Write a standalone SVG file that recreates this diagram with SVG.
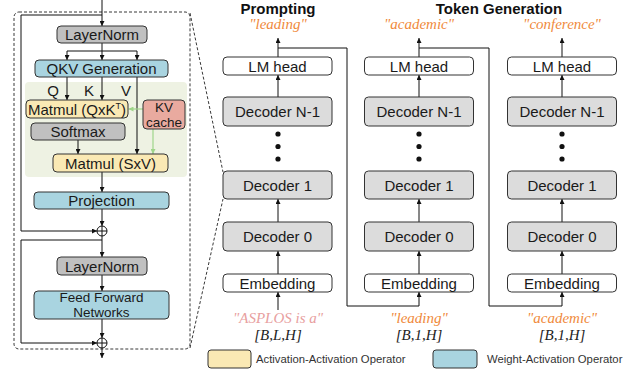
<svg xmlns="http://www.w3.org/2000/svg" width="631" height="370" viewBox="0 0 631 370">
<defs>
<marker id="ah" viewBox="0 0 10 10" refX="10" refY="5" markerWidth="5" markerHeight="5" orient="auto" markerUnits="userSpaceOnUse"><path d="M0,0 L10,5 L0,10 z" fill="#111"/></marker>
<marker id="ahg" viewBox="0 0 10 10" refX="10" refY="5" markerWidth="5" markerHeight="5" orient="auto" markerUnits="userSpaceOnUse"><path d="M0,0 L10,5 L0,10 z" fill="#9fd58a"/></marker>
<style>
.b{stroke:#333;stroke-width:1}
.gray{fill:#c0c0c0}
.blue{fill:#a9d4e0}
.yel{fill:#fae9b4}
.pink{fill:#e9aa9f}
.wh{fill:#fff}
.dec{fill:#dcdcdc}
.t{font-family:"Liberation Sans",Arial,sans-serif;font-size:15px;fill:#1a1a1a;text-anchor:middle}
.t2{font-family:"Liberation Sans",Arial,sans-serif;font-size:13.5px;fill:#1a1a1a;text-anchor:middle}
.h{font-family:"Liberation Sans",Arial,sans-serif;font-size:15px;font-weight:bold;fill:#111;text-anchor:middle}
.w{font-family:"Liberation Serif","Times New Roman",serif;font-style:italic;font-size:15px;text-anchor:middle}
.lg{font-family:"Liberation Sans",Arial,sans-serif;font-size:11.3px;fill:#333}
.c{fill:none;stroke:#111;stroke-width:1}
.cg{fill:none;stroke:#9fd58a;stroke-width:1.2}
.d{fill:none;stroke:#222;stroke-width:0.9;stroke-dasharray:3,2}
</style>
</defs>

<!-- left panel background -->
<rect x="14" y="12" width="176" height="337" rx="5" class="d"/>
<rect x="25" y="82" width="162" height="95" rx="4" fill="#eef2e3"/>

<g id="connectors">
<path class="c" d="M102,0 V26" marker-end="url(#ah)"/>
<path class="c" d="M102,43 V51 M67,51 H137"/>
<path class="c" d="M67,51 V60" marker-end="url(#ah)"/>
<path class="c" d="M102,51 V60" marker-end="url(#ah)"/>
<path class="c" d="M137,51 V60" marker-end="url(#ah)"/>
<path class="c" d="M67,77 V100" marker-end="url(#ah)"/>
<path class="c" d="M102,77 V100" marker-end="url(#ah)"/>
<path class="c" d="M137,77 V154" marker-end="url(#ah)"/>
<path class="c" d="M78,140 V154" marker-end="url(#ah)"/>
<path class="cg" d="M143,109 H128.5" marker-end="url(#ahg)"/>
<path class="cg" d="M153,129 V154" marker-end="url(#ahg)"/>
<path class="c" d="M102,172 V192" marker-end="url(#ah)"/>
<path class="c" d="M102,209 V226" marker-end="url(#ah)"/>
<path class="c" d="M102,15 H21 V231 H97" marker-end="url(#ah)"/>
<path class="c" d="M102,236 V257" marker-end="url(#ah)"/>
<path class="c" d="M102,240 H21 V343 H97" marker-end="url(#ah)"/>
<path class="c" d="M102,275 V291" marker-end="url(#ah)"/>
<path class="c" d="M102,319 V338" marker-end="url(#ah)"/>
<path class="c" d="M102,348 V358" marker-end="url(#ah)"/>
<path class="d" d="M190,13 L223,172 M190,348 L223,199"/>
<!-- plus circles -->
<circle cx="102" cy="231" r="5" fill="#fff" stroke="#111"/>
<path class="c" d="M97,231 H107 M102,226 V236"/>
<circle cx="102" cy="343" r="5" fill="#fff" stroke="#111"/>
<path class="c" d="M97,343 H107 M102,338 V348"/>
<!-- right columns -->
<path class="c" d="M278,57 V38" marker-end="url(#ah)"/>
<path class="c" d="M278,97 V75" marker-end="url(#ah)"/>
<path class="c" d="M278,222 V199" marker-end="url(#ah)"/>
<path class="c" d="M278,274 V251" marker-end="url(#ah)"/>
<path class="c" d="M278,310 V292" marker-end="url(#ah)"/>
<path class="c" d="M419,57 V38" marker-end="url(#ah)"/>
<path class="c" d="M419,97 V75" marker-end="url(#ah)"/>
<path class="c" d="M419,222 V199" marker-end="url(#ah)"/>
<path class="c" d="M419,274 V251" marker-end="url(#ah)"/>
<path class="c" d="M562,57 V38" marker-end="url(#ah)"/>
<path class="c" d="M562,97 V75" marker-end="url(#ah)"/>
<path class="c" d="M562,222 V199" marker-end="url(#ah)"/>
<path class="c" d="M562,274 V251" marker-end="url(#ah)"/>
<path class="c" d="M278,48 H347 V306 H419 V292" marker-end="url(#ah)"/>
<path class="c" d="M419,48 H489 V306 H562 V292" marker-end="url(#ah)"/>
</g>

<g id="layernorm1"><rect x="57" y="26" width="90" height="17" rx="4" class="b gray"/><text x="102" y="40" class="t">LayerNorm</text></g>
<g id="qkv"><rect x="35" y="60" width="133" height="17" rx="4" class="b blue"/><text x="101.5" y="74" class="t">QKV Generation</text></g>
<g id="qkvlabels"><text x="53" y="96" class="t">Q</text><text x="89" y="96" class="t">K</text><text x="126" y="96" class="t">V</text></g>
<g id="matmulqk"><rect x="26" y="100" width="102" height="18" rx="4" class="b yel"/><text x="77" y="114.5" class="t">Matmul (QxK<tspan font-size="9" dy="-6">T</tspan><tspan dy="6">)</tspan></text></g>
<g id="kvcache"><rect x="143" y="100" width="42" height="29" rx="4" class="b pink"/><text x="164" y="112" class="t2">KV</text><text x="164" y="126.5" class="t2">cache</text></g>
<g id="softmax"><rect x="31" y="123" width="94" height="17" rx="4" class="b gray"/><text x="78" y="137" class="t">Softmax</text></g>
<g id="matmulsv"><rect x="53" y="154" width="115" height="18" rx="4" class="b yel"/><text x="110.5" y="168.5" class="t">Matmul (SxV)</text></g>
<g id="projection"><rect x="34" y="192" width="135" height="17" rx="4" class="b blue"/><text x="101.5" y="206" class="t">Projection</text></g>
<g id="layernorm2"><rect x="57" y="257" width="90" height="18" rx="4" class="b gray"/><text x="102" y="271.5" class="t">LayerNorm</text></g>
<g id="ffn"><rect x="34" y="291" width="135" height="28" rx="4" class="b blue"/><text x="101.5" y="302" class="t2">Feed Forward</text><text x="101.5" y="316.5" class="t2">Networks</text></g>

<g id="titles"><text x="278" y="14" class="h">Prompting</text><text x="499" y="14" class="h">Token Generation</text></g>

<g id="col1">
<text x="278" y="29" class="w" fill="#f08a3c">"leading"</text>
<rect x="223" y="57" width="109" height="18" rx="4" class="b wh"/><text x="277.5" y="71.5" class="t">LM head</text>
<rect x="223" y="97" width="109" height="29" rx="4" class="b dec"/><text x="277.5" y="117" class="t">Decoder N-1</text>
<circle cx="278" cy="134" r="2.6" fill="#111"/><circle cx="278" cy="146.5" r="2.6" fill="#111"/><circle cx="278" cy="159" r="2.6" fill="#111"/>
<rect x="223" y="171" width="109" height="28" rx="4" class="b dec"/><text x="277.5" y="190.5" class="t">Decoder 1</text>
<rect x="223" y="222" width="109" height="29" rx="4" class="b dec"/><text x="277.5" y="242" class="t">Decoder 0</text>
<rect x="223" y="274" width="109" height="18" rx="4" class="b wh"/><text x="277.5" y="288.5" class="t">Embedding</text>
<text x="278" y="322.5" class="w" fill="#e8a0a0">"ASPLOS is a"</text>
<text x="278" y="340" class="w" fill="#222">[B,L,H]</text>
</g>

<g id="col2">
<text x="419" y="29" class="w" fill="#f08a3c">"academic"</text>
<rect x="364.5" y="57" width="109" height="18" rx="4" class="b wh"/><text x="419" y="71.5" class="t">LM head</text>
<rect x="364.5" y="97" width="109" height="29" rx="4" class="b dec"/><text x="419" y="117" class="t">Decoder N-1</text>
<circle cx="419" cy="134" r="2.6" fill="#111"/><circle cx="419" cy="146.5" r="2.6" fill="#111"/><circle cx="419" cy="159" r="2.6" fill="#111"/>
<rect x="364.5" y="171" width="109" height="28" rx="4" class="b dec"/><text x="419" y="190.5" class="t">Decoder 1</text>
<rect x="364.5" y="222" width="109" height="29" rx="4" class="b dec"/><text x="419" y="242" class="t">Decoder 0</text>
<rect x="364.5" y="274" width="109" height="18" rx="4" class="b wh"/><text x="419" y="288.5" class="t">Embedding</text>
<text x="419" y="322.5" class="w" fill="#f08a3c">"leading"</text>
<text x="419" y="340" class="w" fill="#222">[B,1,H]</text>
</g>

<g id="col3">
<text x="562" y="29" class="w" fill="#f08a3c">"conference"</text>
<rect x="507.5" y="57" width="109" height="18" rx="4" class="b wh"/><text x="562" y="71.5" class="t">LM head</text>
<rect x="507.5" y="97" width="109" height="29" rx="4" class="b dec"/><text x="562" y="117" class="t">Decoder N-1</text>
<circle cx="562" cy="134" r="2.6" fill="#111"/><circle cx="562" cy="146.5" r="2.6" fill="#111"/><circle cx="562" cy="159" r="2.6" fill="#111"/>
<rect x="507.5" y="171" width="109" height="28" rx="4" class="b dec"/><text x="562" y="190.5" class="t">Decoder 1</text>
<rect x="507.5" y="222" width="109" height="29" rx="4" class="b dec"/><text x="562" y="242" class="t">Decoder 0</text>
<rect x="507.5" y="274" width="109" height="18" rx="4" class="b wh"/><text x="562" y="288.5" class="t">Embedding</text>
<text x="562" y="322.5" class="w" fill="#f08a3c">"academic"</text>
<text x="562" y="340" class="w" fill="#222">[B,1,H]</text>
</g>

<g id="legend">
<rect x="208" y="350" width="43" height="18" rx="3" class="b yel"/><text x="256" y="362.5" class="lg">Activation-Activation Operator</text>
<rect x="433" y="350" width="44" height="18" rx="3" class="b blue"/><text x="487" y="362.5" class="lg">Weight-Activation Operator</text>
</g>
</svg>
